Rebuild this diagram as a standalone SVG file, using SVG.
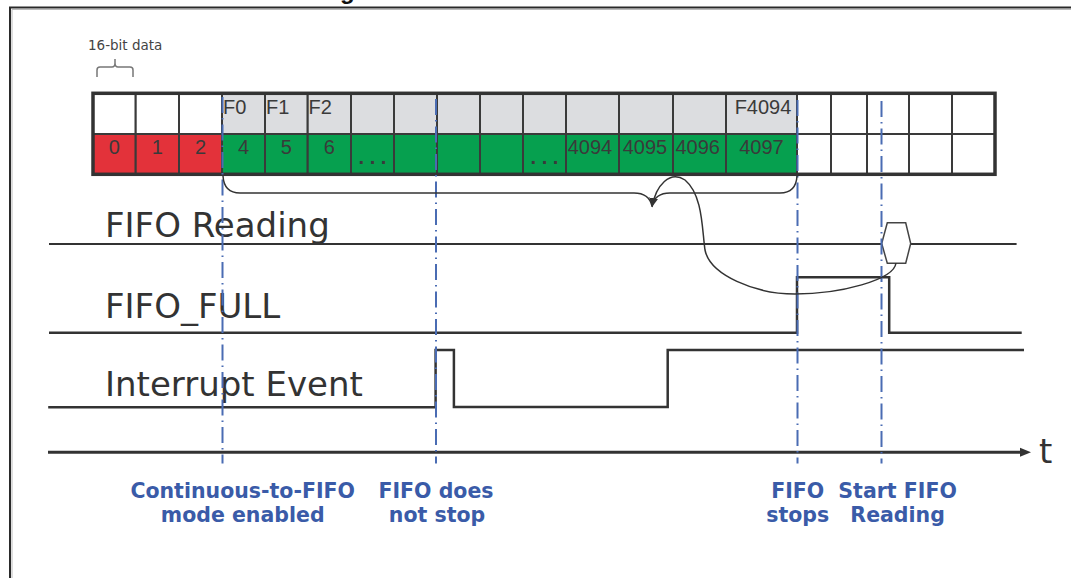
<svg xmlns="http://www.w3.org/2000/svg" width="1071" height="578" viewBox="0 0 1071 578">
<defs>
<style>
.c{stroke:#3a3a3a;stroke-width:2}
.gy{fill:#dcdde0}.rd{fill:#e3323a}.gn{fill:#06a04f}.wh{fill:#ffffff}
.ct{font-family:"Liberation Sans",Arial,sans-serif;font-size:20px;fill:#3a3a3a}
.mid{text-anchor:middle}
.lbl{font-family:"DejaVu Sans",Verdana,sans-serif;font-size:34px;fill:#333333}
.ev{font-family:"DejaVu Sans",Verdana,sans-serif;font-weight:bold;font-size:20.5px;fill:#3a5ba8;text-anchor:middle}
.sig{fill:none;stroke:#333333;stroke-width:2.5}
.dd{stroke:#4a6cb3;stroke-width:2;stroke-dasharray:16 5 1.5 5;fill:none}
.thin{fill:none;stroke:#333333;stroke-width:1.5}
</style>
<marker id="ah" viewBox="0 0 10 10" refX="10" refY="5" markerWidth="9" markerHeight="9" markerUnits="userSpaceOnUse" orient="auto">
<path d="M0,0 L10,5 L0,10 z" fill="#333333"/>
</marker>
</defs>

<g id="frame">
<path d="M10 578 L10 7.5 L1071 7.5" fill="none" stroke="#2a2a2a" stroke-width="2"/>
<path d="M12 578 L12 9.5 L1071 9.5" fill="none" stroke="#bbbbbb" stroke-width="1"/>
<text x="340" y="-1" font-family="Liberation Sans, Arial, sans-serif" font-weight="bold" font-size="24" fill="#111">g</text>
</g>

<g id="bit-label">
<text x="88" y="50" font-family="DejaVu Sans, Verdana, sans-serif" font-size="13.5" fill="#444">16-bit data</text>
<path d="M97 77 L97 70 Q97 67 100 67 L112 67 Q115 67 115 63 L115 59 M115 63 Q115 67 118 67 L130 67 Q133 67 133 70 L133 77" fill="none" stroke="#777" stroke-width="1.5"/>
</g>

<g id="fifo-table">
<g id="row-top">
<rect class="c wh" x="93" y="93.3" width="42.7" height="40.7"/>
<rect class="c wh" x="135.7" y="93.3" width="43.3" height="40.7"/>
<rect class="c wh" x="179" y="93.3" width="43" height="40.7"/>
<rect class="c gy" x="222" y="93.3" width="43" height="40.7"/>
<rect class="c gy" x="265" y="93.3" width="42.7" height="40.7"/>
<rect class="c gy" x="307.7" y="93.3" width="43.3" height="40.7"/>
<rect class="c gy" x="351" y="93.3" width="43" height="40.7"/>
<rect class="c gy" x="394" y="93.3" width="43" height="40.7"/>
<rect class="c gy" x="437" y="93.3" width="43" height="40.7"/>
<rect class="c gy" x="480" y="93.3" width="43" height="40.7"/>
<rect class="c gy" x="523" y="93.3" width="43" height="40.7"/>
<rect class="c gy" x="566" y="93.3" width="53" height="40.7"/>
<rect class="c gy" x="619" y="93.3" width="54" height="40.7"/>
<rect class="c gy" x="673" y="93.3" width="53" height="40.7"/>
<rect class="c gy" x="726" y="93.3" width="71" height="40.7"/>
<rect class="c wh" x="797" y="93.3" width="34" height="40.7"/>
<rect class="c wh" x="831" y="93.3" width="36" height="40.7"/>
<rect class="c wh" x="867" y="93.3" width="42" height="40.7"/>
<rect class="c wh" x="909" y="93.3" width="43" height="40.7"/>
<rect class="c wh" x="952" y="93.3" width="43" height="40.7"/>
<text class="ct" x="223" y="113.5">F0</text>
<text class="ct" x="266" y="113.5">F1</text>
<text class="ct" x="308.5" y="113.5">F2</text>
<text class="ct mid" x="763" y="113.5">F4094</text>
</g>
<g id="row-bottom">
<rect class="c rd" x="93" y="134" width="42.7" height="40.3"/>
<rect class="c rd" x="135.7" y="134" width="43.3" height="40.3"/>
<rect class="c rd" x="179" y="134" width="43" height="40.3"/>
<rect class="c gn" x="222" y="134" width="43" height="40.3"/>
<rect class="c gn" x="265" y="134" width="42.7" height="40.3"/>
<rect class="c gn" x="307.7" y="134" width="43.3" height="40.3"/>
<rect class="c gn" x="351" y="134" width="43" height="40.3"/>
<rect class="c gn" x="394" y="134" width="43" height="40.3"/>
<rect class="c gn" x="437" y="134" width="43" height="40.3"/>
<rect class="c gn" x="480" y="134" width="43" height="40.3"/>
<rect class="c gn" x="523" y="134" width="43" height="40.3"/>
<rect class="c gn" x="566" y="134" width="53" height="40.3"/>
<rect class="c gn" x="619" y="134" width="54" height="40.3"/>
<rect class="c gn" x="673" y="134" width="53" height="40.3"/>
<rect class="c gn" x="726" y="134" width="71" height="40.3"/>
<rect class="c wh" x="797" y="134" width="34" height="40.3"/>
<rect class="c wh" x="831" y="134" width="36" height="40.3"/>
<rect class="c wh" x="867" y="134" width="42" height="40.3"/>
<rect class="c wh" x="909" y="134" width="43" height="40.3"/>
<rect class="c wh" x="952" y="134" width="43" height="40.3"/>
<text class="ct mid" x="114.3" y="154">0</text>
<text class="ct mid" x="157.3" y="154">1</text>
<text class="ct mid" x="200.5" y="154">2</text>
<text class="ct mid" x="243.5" y="154">4</text>
<text class="ct mid" x="286.3" y="154">5</text>
<text class="ct mid" x="329.3" y="154">6</text>
<text class="ct mid" x="372.5" y="164" font-weight="bold">. . .</text>
<text class="ct mid" x="544.5" y="164" font-weight="bold">. . .</text>
<text class="ct" x="567.7" y="154">4094</text>
<text class="ct" x="622.7" y="154">4095</text>
<text class="ct" x="675.5" y="154">4096</text>
<text class="ct mid" x="761.5" y="154">4097</text>
</g>
<rect x="93" y="93.3" width="902" height="81" fill="none" stroke="#333" stroke-width="3.5"/>
</g>

<g id="signal-labels">
<text class="lbl" x="105" y="236.7">FIFO Reading</text>
<text class="lbl" x="105" y="318.3">FIFO_FULL</text>
<text class="lbl" x="105" y="396">Interrupt Event</text>
</g>

<g id="signals">
<g id="fifo-reading">
<path class="sig" style="stroke-width:2.2" d="M49 244 L881.7 244 M910.7 244 L1016.6 244"/>
<polygon points="881.7,243.5 887.3,222.7 905.7,222.7 910.7,243.5 905.7,263.3 887.3,263.3" fill="#fff" stroke="#444" stroke-width="1.5"/>
</g>
<path id="fifo-full" class="sig" d="M49 332.7 L797 332.7 L797 277.3 L889.2 277.3 L889.2 332.7 L1021.7 332.7"/>
<path id="interrupt" class="sig" d="M48.2 407.3 L435.6 407.3 L435.6 350 L453.9 350 L453.9 407 L667.7 407 L667.7 350 L1024 350"/>
</g>

<g id="time-axis">
<path d="M48 452.3 L1022 452.3" stroke="#333" stroke-width="3" fill="none"/>
<polygon points="1031,452.3 1020,447.8 1020,456.8" fill="#333"/>
<text class="lbl" x="1039" y="463">t</text>
</g>

<g id="connectors">
<path class="dd" d="M222.5 97 L222.5 463.5"/>
<path class="dd" d="M436 99 L436 463.5"/>
<path class="dd" d="M797.5 100 L797.5 463.5"/>
<path class="dd" d="M881.5 101 L881.5 463.5"/>
<path class="thin" d="M223 176 Q224 193 240 193 L634 193 Q649 193 652 206 Q655 193 670 193 L780 193 Q796 193 797 176"/>
<path class="thin" marker-end="url(#ah)" d="M896 263 C894 280 840 294 795 294 C755 294 710 275 705 250 C702 230 703 195 685 180 C670 170 656 185 652 207"/>
</g>

<g id="event-labels">
<text class="ev" x="242.7" y="498.3">Continuous-to-FIFO</text>
<text class="ev" x="242.7" y="521.7">mode enabled</text>
<text class="ev" x="436" y="498.3">FIFO does</text>
<text class="ev" x="437" y="521.7">not stop</text>
<text class="ev" x="797.7" y="498.3">FIFO</text>
<text class="ev" x="797.7" y="521.7">stops</text>
<text class="ev" x="897.6" y="498.3">Start FIFO</text>
<text class="ev" x="897.6" y="521.7">Reading</text>
</g>
</svg>
